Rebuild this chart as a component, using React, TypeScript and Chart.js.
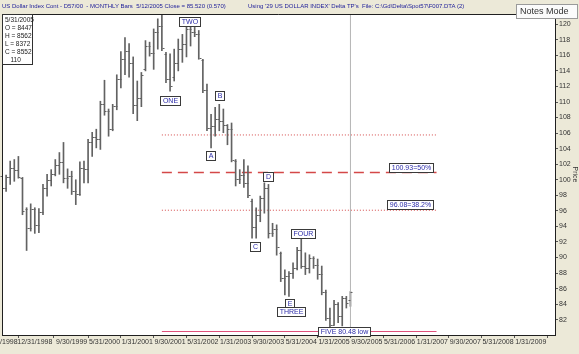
import React, { useEffect, useRef } from 'react';
import { Chart, registerables } from 'chart.js';
Chart.register(...registerables);

// month index: 0 = Jan 1998; first bar = Apr 1998
const firstMonth = 3;
const opens = [100.5, 99.0, 100.3, 101.5, 101.2, 100.2, 96.3, 93.8, 96.3, 94.2, 95.8, 99.0, 100.0, 100.8, 101.9, 102.3, 100.2, 100.5, 98.5, 98.2, 101.5, 101.4, 104.8, 105.5, 105.3, 109.7, 108.8, 106.5, 109.5, 112.9, 115.5, 116.5, 115.0, 109.6, 110.5, 114.2, 117.2, 116.3, 119.0, 119.8, 116.2, 113.0, 113.2, 115.0, 116.8, 117.5, 119.4, 119.0, 118.8, 115.4, 111.6, 106.6, 106.9, 107.8, 107.5, 107.0, 106.5, 102.4, 100.1, 100.6, 99.6, 97.3, 93.9, 95.5, 97.6, 99.0, 93.2, 93.7, 90.6, 87.4, 87.6, 88.0, 88.6, 91.0, 88.9, 88.6, 89.9, 89.0, 87.9, 85.6, 82.2, 81.3, 84.0, 82.5, 84.8, 84.47];
const highs = [101.9, 100.6, 102.4, 102.6, 103.0, 100.3, 96.4, 96.9, 96.4, 96.3, 99.4, 100.7, 101.3, 102.6, 103.5, 104.8, 101.4, 101.1, 100.0, 102.3, 102.4, 105.2, 106.1, 106.5, 110.1, 112.8, 109.1, 109.7, 113.5, 116.5, 118.3, 117.5, 115.8, 112.7, 113.8, 117.9, 117.7, 119.4, 120.7, 121.38, 116.4, 116.2, 116.8, 118.1, 118.7, 120.1, 120.2, 119.6, 119.2, 115.5, 112.3, 108.4, 109.3, 109.7, 109.1, 107.1, 107.3, 102.6, 101.3, 102.6, 101.8, 97.5, 96.4, 97.9, 99.6, 99.4, 94.4, 94.2, 90.7, 88.4, 88.2, 89.3, 91.3, 92.5, 90.6, 90.35, 90.1, 89.8, 88.9, 85.8, 83.5, 84.5, 84.2, 85.0, 85.0, 85.62];
const lows = [98.5, 98.5, 99.4, 99.8, 100.2, 95.5, 90.9, 93.4, 93.1, 93.2, 95.5, 97.9, 99.2, 100.5, 100.7, 99.6, 98.9, 98.1, 96.8, 98.0, 99.6, 99.6, 103.0, 104.1, 103.9, 108.3, 105.6, 106.3, 109.0, 111.8, 113.5, 113.2, 108.5, 107.6, 109.4, 114.0, 115.9, 114.2, 116.8, 116.6, 112.5, 111.4, 112.7, 114.0, 115.1, 115.8, 117.2, 118.4, 115.5, 111.2, 106.3, 104.1, 105.6, 106.3, 106.05, 104.5, 102.3, 99.2, 99.5, 99.0, 97.7, 92.5, 92.5, 94.6, 95.7, 92.5, 92.7, 90.3, 86.9, 85.2, 85.0, 87.3, 88.4, 88.6, 87.8, 88.0, 88.6, 87.2, 85.2, 81.9, 80.48, 81.3, 81.6, 81.2, 83.5, 83.72];
const closes = [99.0, 100.3, 101.5, 101.2, 100.4, 96.0, 93.8, 96.3, 94.2, 95.8, 99.0, 100.0, 100.8, 101.9, 102.3, 100.2, 100.5, 98.5, 98.2, 101.5, 101.4, 104.8, 105.5, 105.3, 109.7, 108.8, 106.5, 109.5, 112.9, 115.5, 116.5, 115.0, 109.6, 110.5, 113.5, 117.2, 116.3, 119.0, 119.8, 117.0, 113.0, 112.0, 115.0, 116.8, 117.5, 119.4, 119.0, 118.8, 115.6, 111.6, 106.6, 106.9, 107.8, 107.5, 107.0, 106.5, 102.5, 100.1, 100.6, 99.6, 98.0, 93.9, 95.5, 97.6, 99.0, 93.2, 93.7, 91.4, 87.4, 87.6, 88.0, 88.6, 91.0, 88.9, 88.6, 89.9, 89.0, 87.9, 85.6, 82.2, 81.3, 84.0, 82.5, 84.8, 84.2, 85.52];

const xTickMonths = [3, 11, 20, 28, 36, 44, 52, 60, 68, 76, 84, 92, 100, 108, 116, 124, 132];
const xTickLabels = ['4/30/1998', '12/31/1998', '9/30/1999', '5/31/2000', '1/31/2001', '9/30/2001', '5/31/2002', '1/31/2003', '9/30/2003', '5/31/2004', '1/31/2005', '9/30/2005', '5/31/2006', '1/31/2007', '9/30/2007', '5/31/2008', '1/31/2009'];
const yTickValues = [82, 84, 86, 88, 90, 92, 94, 96, 98, 100, 102, 104, 106, 108, 110, 112, 114, 116, 118, 120];

const fibStartMonth = 42;
const fibEndMonth = 109;
const fibLevels = [105.76, 100.93, 96.08];
const fibLabelTexts = ['', '100.93=50%', '96.08=38.2%'];
const fibLabelMonth = 108.2;
const lowLevel = 80.48;
const cursorMonth = 88;

const waveTexts = ['TWO', 'ONE', 'B', 'A', 'D', 'C', 'FOUR', 'E', 'THREE', 'FIVE 80.48 low'];
const waveMonths = [48.7, 44.05, 56.1, 53.9, 67.95, 64.7, 76.5, 73.1, 73.6, 86.5];
const wavePrices = [120.41, 110.22, 110.8, 103.06, 100.41, 91.38, 93.12, 84.09, 82.99, 80.48];

const infoLines = ['5/31/2005', 'O = 8447', 'H = 8562', 'L = 8372', 'C = 8552', '   110'];

const BEIGE = '#ECE9D8';
const BAR = '#626262';
const FONT = '"Liberation Sans", Arial, sans-serif';

const Y_MIN = 80.03;
const Y_MAX = 121.32;
const X_MIN = 3.0;
const X_MAX = 137.9;

const plotFrame = {
  id: 'plotFrame',
  beforeDatasetsDraw(chart: any) {
    const { ctx, chartArea: a } = chart;
    ctx.save();
    ctx.fillStyle = '#ffffff';
    ctx.fillRect(a.left, a.top, a.right - a.left, a.bottom - a.top);
    ctx.restore();
  },
  afterDatasetsDraw(chart: any) {
    const { ctx, chartArea: a, scales } = chart;
    const x = scales.x;
    const y = scales.y;
    ctx.save();
    // open / close ticks
    ctx.strokeStyle = BAR;
    ctx.lineWidth = 1;
    ctx.beginPath();
    opens.forEach((o, i) => {
      const px = Math.round(x.getPixelForValue(firstMonth + i)) + 0.5;
      const yo = Math.round(y.getPixelForValue(o)) + 0.5;
      const yc = Math.round(y.getPixelForValue(closes[i])) + 0.5;
      ctx.moveTo(px - 2, yo);
      ctx.lineTo(px, yo);
      ctx.moveTo(px, yc);
      ctx.lineTo(px + 2, yc);
    });
    ctx.stroke();

    // labels
    ctx.font = '7px ' + FONT;
    ctx.textBaseline = 'middle';
    ctx.textAlign = 'center';
    const drawBox = (text: string, cx: number, cy: number) => {
      const w = Math.ceil(ctx.measureText(text).width) + 4;
      const h = 9;
      const left = Math.round(cx - w / 2) + 0.5;
      const top = Math.round(cy - h / 2) + 0.5;
      ctx.fillStyle = '#ffffff';
      ctx.fillRect(left, top, w, h);
      ctx.strokeStyle = '#3a3a3a';
      ctx.strokeRect(left, top, w, h);
      ctx.fillStyle = '#2b2ba8';
      ctx.fillText(text, left + w / 2, top + h / 2 + 0.5);
    };
    waveTexts.forEach((t, i) => {
      drawBox(t, x.getPixelForValue(waveMonths[i]), y.getPixelForValue(wavePrices[i]));
    });
    fibLabelTexts.forEach((t, i) => {
      if (!t) return;
      const w = Math.ceil(ctx.measureText(t).width) + 4;
      const right = x.getPixelForValue(fibLabelMonth);
      drawBox(t, right - w / 2, y.getPixelForValue(fibLevels[i]) - 5.5);
    });

    // frame
    ctx.strokeStyle = '#202020';
    ctx.lineWidth = 1;
    ctx.beginPath();
    ctx.moveTo(a.left + 0.5, a.bottom);
    ctx.lineTo(a.left + 0.5, a.top + 0.5);
    ctx.lineTo(a.right, a.top + 0.5);
    ctx.stroke();
    ctx.restore();
  },
};

export default function App() {
  const ref = useRef<HTMLCanvasElement>(null);
  useEffect(() => {
    if (!ref.current) return;
    const months = opens.map((_, i) => firstMonth + i);
    const hline = (v: number) => [
      { x: fibStartMonth, y: v },
      { x: fibEndMonth, y: v },
    ];
    const chart = new Chart(ref.current, {
      type: 'bar',
      data: {
        datasets: [
          {
            type: 'line',
            data: [
              { x: cursorMonth, y: Y_MIN },
              { x: cursorMonth, y: Y_MAX },
            ],
            borderColor: '#b4b4b4',
            borderWidth: 1,
            pointRadius: 0,
          } as any,
          {
            type: 'bar',
            data: months.map((m, i) => ({ x: m, y: [lows[i], highs[i]] })),
            backgroundColor: BAR,
            borderWidth: 0,
            barThickness: 1,
          } as any,
          {
            type: 'line',
            data: hline(fibLevels[0]),
            borderColor: '#d44848',
            borderWidth: 1,
            borderDash: [1, 2],
            pointRadius: 0,
          } as any,
          {
            type: 'line',
            data: hline(fibLevels[1]),
            borderColor: '#d44848',
            borderWidth: 1.5,
            borderDash: [10, 6],
            pointRadius: 0,
          } as any,
          {
            type: 'line',
            data: hline(fibLevels[2]),
            borderColor: '#d44848',
            borderWidth: 1,
            borderDash: [1, 2],
            pointRadius: 0,
          } as any,
          {
            type: 'line',
            data: hline(lowLevel),
            borderColor: '#e0507a',
            borderWidth: 1,
            pointRadius: 0,
          } as any,
        ],
      },
      options: {
        animation: false,
        responsive: false,
        devicePixelRatio: 1,
        layout: { padding: { left: 2, top: 14, right: 0, bottom: 0 } },
        plugins: { legend: { display: false }, tooltip: { enabled: false } },
        scales: {
          x: {
            type: 'linear',
            position: 'bottom',
            min: X_MIN,
            max: X_MAX,
            offset: false,
            grid: { drawOnChartArea: false, drawTicks: true, tickLength: 3, color: '#555' },
            border: { display: true, color: '#202020' },
            ticks: {
              autoSkip: false,
              maxRotation: 0,
              minRotation: 0,
              padding: 0,
              color: '#333',
              font: { size: 7, family: FONT },
              callback: (v: any) => {
                const i = xTickMonths.indexOf(Number(v));
                return i >= 0 ? xTickLabels[i] : '';
              },
            },
            afterBuildTicks: (s: any) => {
              s.ticks = xTickMonths.map((v) => ({ value: v }));
            },
            afterFit: (s: any) => {
              s.height = 19;
              s.paddingLeft = 0;
              s.paddingRight = 0;
            },
          },
          y: {
            type: 'linear',
            position: 'right',
            min: Y_MIN,
            max: Y_MAX,
            grid: { drawOnChartArea: false, drawTicks: true, tickLength: 3, color: '#555' },
            border: { display: true, color: '#202020' },
            title: { display: true, text: 'Price', color: '#333', font: { size: 7, family: FONT }, padding: 0 },
            ticks: {
              padding: 1,
              color: '#333',
              font: { size: 7, family: FONT },
              callback: (v: any) => String(v),
            },
            afterBuildTicks: (s: any) => {
              s.ticks = yTickValues.map((v) => ({ value: v }));
            },
            afterFit: (s: any) => {
              s.width = 24;
              s.paddingTop = 0;
              s.paddingBottom = 0;
            },
          },
        },
      } as any,
      plugins: [plotFrame],
    });
    return () => chart.destroy();
  }, []);

  return (
    <div style={{ position: 'fixed', left: 0, top: 0, width: 579, height: 354, background: BEIGE, fontFamily: FONT, overflow: 'hidden' }}>
      <canvas ref={ref} width={579} height={354} style={{ position: 'absolute', left: 0, top: 0 }} />
      <div style={{ position: 'absolute', left: 2, top: 3, fontSize: 6, color: '#22229a', whiteSpace: 'pre' }}>
        US Dollar Index Cont - D57/00  - MONTHLY Bars  5/12/2005 Close = 85.520 (0.570)
      </div>
      <div style={{ position: 'absolute', left: 248, top: 3, fontSize: 6, color: '#22229a', whiteSpace: 'pre' }}>
        Using '29 US DOLLAR INDEX' Delta TP's
      </div>
      <div style={{ position: 'absolute', left: 362, top: 3, fontSize: 6, color: '#22229a', whiteSpace: 'pre' }}>
        File: C:\Gd\Delta\Spot57\F007.DTA (2)
      </div>
      <div style={{ position: 'absolute', left: 516, top: 4, width: 62, height: 15, background: '#fbfbfb', border: '1px solid #9a9a9a', boxSizing: 'border-box', fontSize: 9, color: '#333', lineHeight: '13px', paddingLeft: 3, whiteSpace: 'pre' }}>
        Notes Mode
      </div>
      <div style={{ position: 'absolute', left: 2, top: 14, width: 31, height: 51, background: '#fff', border: '1px solid #303030', boxSizing: 'border-box', fontSize: 6.5, color: '#222', lineHeight: '8px', paddingLeft: 2, paddingTop: 1, whiteSpace: 'pre' }}>
        {infoLines.map((l, i) => (
          <div key={i}>{l}</div>
        ))}
      </div>
    </div>
  );
}
